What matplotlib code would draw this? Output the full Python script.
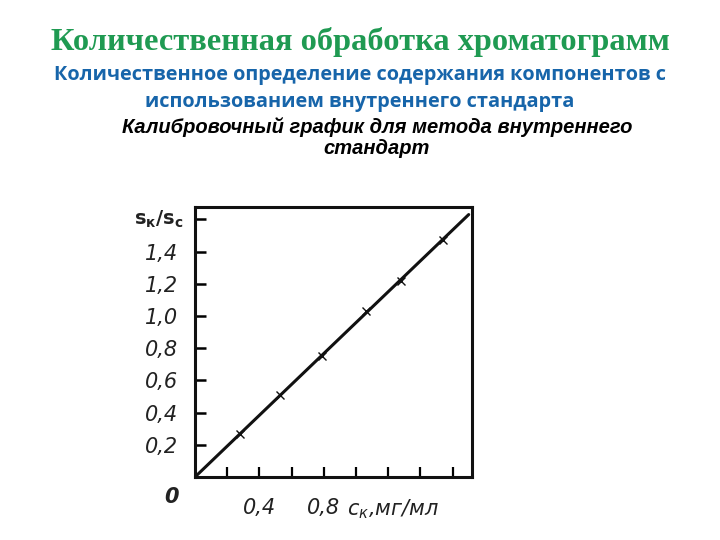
import matplotlib
matplotlib.use("Agg")
import matplotlib.pyplot as plt

# Data
conc = [0.28, 0.53, 0.79, 1.06, 1.28, 1.54]
ratio = [0.27, 0.51, 0.75, 1.03, 1.22, 1.47]
line_x = [0.0, 1.70]
line_y = [0.0, 1.63]
ytick_vals = [0.2, 0.4, 0.6, 0.8, 1.0, 1.2, 1.4, 1.6]
ytick_labels = ["0,2", "0,4", "0,6", "0,8", "1,0", "1,2", "1,4", ""]
xtick_vals = [0.2, 0.4, 0.6, 0.8, 1.0, 1.2, 1.4, 1.6]
xtick_labels = ["", "0,4", "", "0,8", "", "", "", ""]

title = "Количественная обработка хроматограмм"
sub1 = "Количественное определение содержания компонентов с"
sub2 = "использованием внутреннего стандарта"
cap1 = "Калибровочный график для метода внутреннего"
cap2 = "стандарт"

plt.rcParams["mathtext.fontset"] = "dejavusans"

fig = plt.figure(figsize=(7.2, 5.4), dpi=100)
fig.patch.set_facecolor("white")

fig.text(0.5, 1 - 42/540, title, ha="center", va="center", color="#1f9a52",
         fontsize=23.3, fontweight="bold", family="Liberation Serif")
fig.text(0.5, 1 - 75/540, sub1, ha="center", va="center", color="#1765aa",
         fontsize=14.3, fontweight="bold", family="Open Sans")
fig.text(0.5, 1 - 102/540, sub2, ha="center", va="center", color="#1765aa",
         fontsize=14.3, fontweight="bold", family="Open Sans")
fig.text(377/720, 1 - 127/540, cap1, ha="center", va="center", color="black",
         fontsize=14.5, fontweight="bold", style="italic", family="Liberation Sans")
fig.text(377/720, 1 - 149/540, cap2, ha="center", va="center", color="black",
         fontsize=14.5, fontweight="bold", style="italic", family="Liberation Sans")

# axes: origin at (195,477), 0.2 per 32.2 px
sc = 32.2 / 0.2
x0, y0 = 195, 477
xmax, ymax = 1.72, 1.68
ax = fig.add_axes([x0/720, 1 - y0/540, xmax*sc/720, ymax*sc/540])
ax.set_xlim(0, xmax)
ax.set_ylim(0, ymax)
for s in ax.spines.values():
    s.set_linewidth(2.2)
    s.set_color("#111111")

ax.plot(line_x, line_y, color="#111111", lw=2.2, solid_capstyle="round")
ax.plot(conc, ratio, "x", color="#111111", ms=6, mew=1.0)

ax.set_yticks(ytick_vals)
ax.set_yticklabels(ytick_labels)
ax.set_xticks(xtick_vals)
ax.set_xticklabels(xtick_labels)
ax.tick_params(axis="y", direction="in", length=8, width=1.8, pad=12,
               labelsize=15)
ax.tick_params(axis="x", direction="in", length=7, width=1.6, pad=15,
               labelsize=15)
for lbl in ax.get_yticklabels() + ax.get_xticklabels():
    lbl.set_fontstyle("italic")
    lbl.set_family("DejaVu Sans")
    lbl.set_color("#222222")

ax.text(-0.1, -0.06, "0", ha="right", va="top",
        fontsize=15, style="italic", color="#222222", fontweight="bold")
ax.text(1.23, -0.125, r"c$_{к}$,мг/мл", ha="center", va="top", fontsize=15,
        style="italic", color="#222222")
ax.text(-0.07, 1.6, r"$\mathbf{s_{к}/s_{с}}$", ha="right", va="center", fontsize=14,
        color="#222222")

fig.savefig("out.png", dpi=100, facecolor="white")
